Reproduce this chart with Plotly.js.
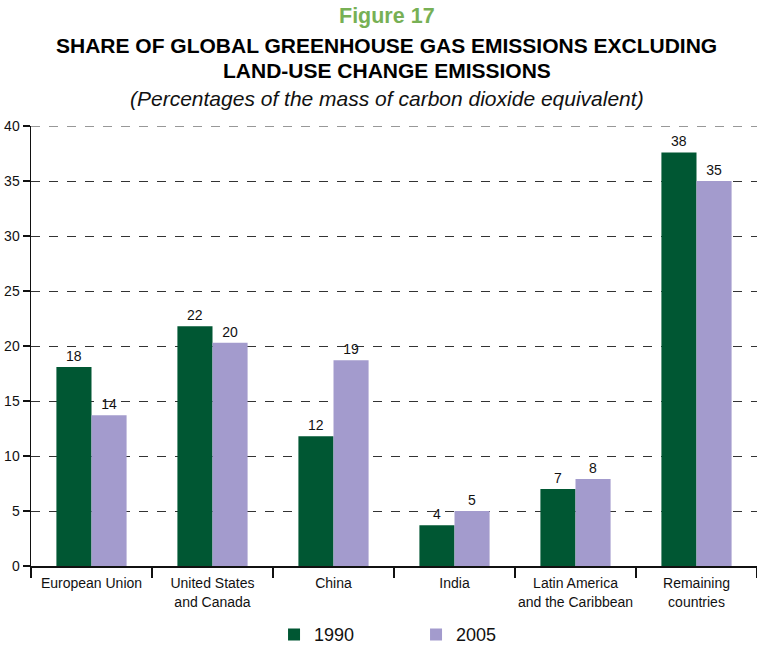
<!DOCTYPE html>
<html>
<head>
<meta charset="utf-8">
<script src="https://cdn.plot.ly/plotly-3.0.1.min.js"></script>
<style>
  html, body { margin: 0; padding: 0; background: #fff; }
  #chart { width: 757px; height: 645px; }
</style>
</head>
<body>
<div id="chart"></div>
<script>
const categories = [
  "European Union",
  "United States<br>and Canada",
  "China",
  "India",
  "Latin America<br>and the Caribbean",
  "Remaining<br>countries"
];
const values1990 = [18.1, 21.8, 11.8, 3.7, 7.0, 37.6];
const values2005 = [13.7, 20.3, 18.7, 5.0, 7.9, 35.0];
const labels1990 = ["18", "22", "12", "4", "7", "38"];
const labels2005 = ["14", "20", "19", "5", "8", "35"];
const yTicks = [0, 5, 10, 15, 20, 25, 30, 35, 40];
const yMax = 40;

const FONT = "Liberation Sans, Arial, Helvetica, sans-serif";

const traces = [
  {
    type: "bar", name: "1990", x: categories, y: values1990,
    marker: { color: "#005733" },
    text: labels1990, textposition: "outside", cliponaxis: false,
    textfont: { size: 14, color: "#111", family: FONT },
    hoverinfo: "skip"
  },
  {
    type: "bar", name: "2005", x: categories, y: values2005,
    marker: { color: "#a39bcd" },
    text: labels2005, textposition: "outside", cliponaxis: false,
    textfont: { size: 14, color: "#111", family: FONT },
    hoverinfo: "skip"
  }
];

const layout = {
  width: 757, height: 645,
  margin: { l: 31, r: 0, t: 126, b: 79, autoexpand: false },
  paper_bgcolor: "#fff", plot_bgcolor: "#fff",
  font: { family: FONT, size: 14, color: "#111" },
  barmode: "group", bargap: 0.42, bargroupgap: 0,
  showlegend: true,
  legend: {
    orientation: "h", x: 0.362, xanchor: "left", xref: "container",
    y: 0.016, yanchor: "middle", yref: "container",
    font: { size: 18, color: "#111", family: FONT },
    itemwidth: 30, tracegroupgap: 0, entrywidth: 97
  },
  xaxis: {
    type: "category", automargin: false,
    showline: true, linecolor: "#111", linewidth: 1.5,
    ticks: "outside", tickson: "boundaries", ticklen: 10, tickwidth: 1.5, tickcolor: "#111",
    tickfont: { size: 14, color: "#111", family: FONT }, tickangle: 0, ticklabelstandoff: 4,
    showgrid: false, zeroline: false, fixedrange: true
  },
  yaxis: {
    range: [0, yMax], tickvals: yTicks, ticktext: yTicks.map(String), automargin: false,
    showline: true, linecolor: "#111", linewidth: 1.5,
    ticks: "outside", ticklen: 7, tickwidth: 1.5, tickcolor: "#111",
    tickfont: { size: 14, color: "#111", family: FONT },
    showgrid: true, gridcolor: "#333", gridwidth: 1, griddash: "dash",
    zeroline: false, fixedrange: true
  },
  shapes: [
    { type: "line", xref: "paper", yref: "y", x0: 0, x1: 1, y0: yMax, y1: yMax,
      line: { color: "#333", width: 1, dash: "dash" }, layer: "below" }
  ],
  annotations: [
    { text: "<b>Figure 17</b>", xref: "paper", yref: "paper", x: 0.49, y: 1, yanchor: "middle", yshift: 110,
      showarrow: false, font: { size: 21.5, color: "#77b055", family: FONT } },
    { text: "<b>SHARE OF GLOBAL GREENHOUSE GAS EMISSIONS EXCLUDING</b>", xref: "paper", yref: "paper",
      x: 0.49, y: 1, yanchor: "middle", yshift: 81, showarrow: false, font: { size: 21, color: "#000", family: FONT } },
    { text: "<b>LAND-USE CHANGE EMISSIONS</b>", xref: "paper", yref: "paper",
      x: 0.49, y: 1, yanchor: "middle", yshift: 56, showarrow: false, font: { size: 21, color: "#000", family: FONT } },
    { text: "<i>(Percentages of the mass of carbon dioxide equivalent)</i>", xref: "paper", yref: "paper",
      x: 0.49, y: 1, yanchor: "middle", yshift: 28, showarrow: false, font: { size: 21, color: "#111", family: FONT } }
  ]
};

Plotly.newPlot("chart", traces, layout, { displayModeBar: false, staticPlot: true });
</script>
</body>
</html>
